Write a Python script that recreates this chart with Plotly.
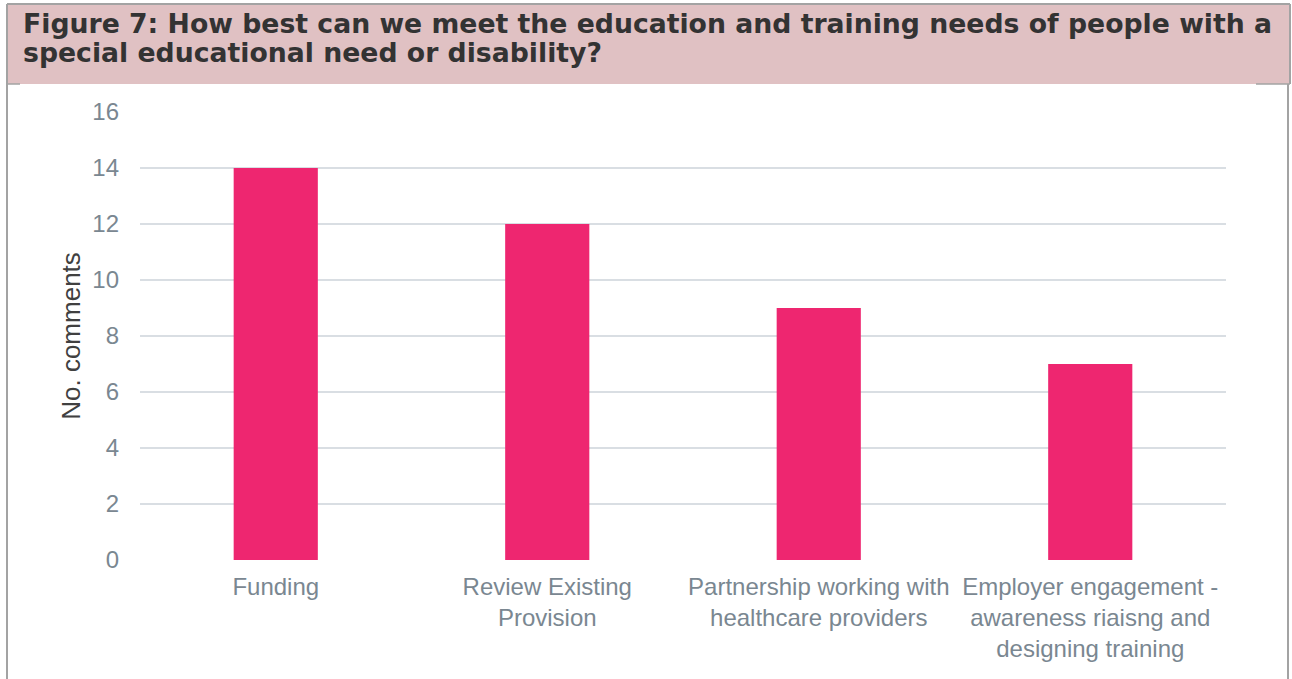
import plotly.graph_objects as go

# Survey responses: number of comments per theme
categories = [
    "Funding",
    "Review Existing<br>Provision",
    "Partnership working with<br>healthcare providers",
    "Employer engagement -<br>awareness riaisng and<br>designing training",
]
comments = [14, 12, 9, 7]

title_lines = [
    "Figure 7: How best can we meet the education and training needs of people with a",
    "special educational need or disability?",
]
y_title = "No. comments"
y_ticks = [0, 2, 4, 6, 8, 10, 12, 14, 16]

W, H = 1292, 679
L, R, T, B = 140, 66, 112, 119
PW, PH = W - L - R, H - T - B
FRAME = "#A3A3A3"


def px_x(p):
    return (p - L) / PW


def px_y(p):
    return (H - B - p) / PH


fig = go.Figure(
    go.Bar(
        x=categories,
        y=comments,
        width=0.31,
        marker=dict(color="#EE2670", line=dict(width=0)),
        hoverinfo="x+y",
    )
)


def seg(x0, y0, x1, y1, w=2):
    return dict(type="line", xref="paper", yref="paper",
                x0=px_x(x0), x1=px_x(x1), y0=px_y(y0), y1=px_y(y1),
                line=dict(color=FRAME, width=w))


# Header band and surrounding frame
shapes = [
    dict(type="rect", xref="paper", yref="paper",
         x0=px_x(7), x1=px_x(1290), y0=px_y(84), y1=px_y(4),
         fillcolor="#E0C1C3", line=dict(width=0), layer="below"),
    seg(7, 4, 1290, 4),
    seg(7, 4, 7, H + 2),
    seg(1290, 4, 1290, 84),
    seg(1288, 84, 1288, H + 2),
    seg(7, 84, 20, 84, 1.5),
    seg(1256, 84, 1290, 84, 1.5),
]

annotations = []
for i, line in enumerate(title_lines):
    annotations.append(dict(
        text="<b>" + line + "</b>", xref="paper", yref="paper",
        x=px_x(21), y=px_y(23 + 30 * i), xanchor="left", yanchor="middle",
        showarrow=False, font=dict(family="DejaVu Sans", size=26.7, color="#333333"),
    ))

fig.update_layout(
    width=W, height=H,
    margin=dict(l=L, r=R, t=T, b=B),
    paper_bgcolor="white", plot_bgcolor="white",
    shapes=shapes, annotations=annotations,
    showlegend=False, bargap=0.69,
    xaxis=dict(
        showgrid=False, showline=False, ticks="", ticklabelstandoff=10,
        tickfont=dict(family="Liberation Sans, Arial", size=24, color="#7A8791"),
    ),
    yaxis=dict(
        range=[0, 16], tickvals=y_ticks, showline=False, zeroline=False,
        gridcolor="#D9DEE3", gridwidth=2, ticks="", ticklabelstandoff=20,
        tickfont=dict(family="Liberation Sans, Arial", size=24, color="#7A8791"),
        title=dict(text=y_title, standoff=4,
                   font=dict(family="Liberation Sans, Arial", size=26, color="#404040")),
    ),
)

fig.write_html("out.html")
